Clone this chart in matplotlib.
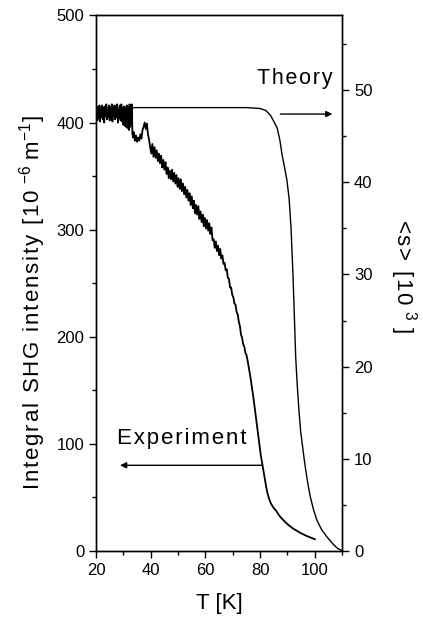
import numpy as np
import matplotlib
matplotlib.use("Agg")
import matplotlib.pyplot as plt
from matplotlib.ticker import MultipleLocator

plt.rcParams['font.family'] = ['Liberation Sans', 'DejaVu Sans']
plt.rcParams['mathtext.fontset'] = 'custom'
plt.rcParams['mathtext.rm'] = 'Liberation Sans'
plt.rcParams['mathtext.default'] = 'regular'
plt.rcParams['mathtext.fallback'] = 'stixsans'

# experiment: T [K] vs integral SHG intensity (left axis)
exp_T = [20.0, 20.25, 20.5, 20.75, 21.0, 21.25, 21.5, 21.75, 22.0, 22.25,
         22.5, 22.75, 23.0, 23.25, 23.5, 23.75, 24.0, 24.25, 24.5, 24.75,
         25.0, 25.25, 25.5, 25.75, 26.0, 26.25, 26.5, 26.75, 27.0, 27.25,
         27.5, 27.75, 28.0, 28.25, 28.5, 28.75, 29.0, 29.25, 29.5, 29.75,
         30.0, 30.25, 30.5, 30.75, 31.0, 31.25, 31.5, 31.75, 32.0, 32.25,
         32.5, 32.75, 33.0, 33.1, 33.3, 33.5, 33.8, 34.2, 34.6, 35.0,
         35.4, 35.8, 36.2, 36.6, 37.0, 37.4, 37.8, 38.2, 38.6, 39.0,
         39.4, 39.8, 40.2, 40.6, 41.0, 41.4, 41.8, 42.2, 42.6, 43.0,
         43.4, 43.8, 44.2, 44.6, 45.0, 45.4, 45.8, 46.2, 46.6, 47.0,
         47.4, 47.8, 48.2, 48.6, 49.0, 49.4, 49.8, 50.2, 50.6, 51.0,
         51.4, 51.8, 52.2, 52.6, 53.0, 53.4, 53.8, 54.2, 54.6, 55.0,
         55.4, 55.8, 56.2, 56.6, 57.0, 57.4, 57.8, 58.2, 58.6, 59.0,
         59.4, 59.8, 60.2, 60.6, 61.0, 61.4, 61.8, 62.2, 62.6, 63.0,
         63.4, 63.8, 64.2, 64.6, 65.0, 65.4, 65.8, 66.2, 66.6, 67.0,
         67.4, 67.8, 68.2, 68.6, 69.0, 69.4, 69.8, 70.2, 70.6, 71.0,
         71.4, 71.8, 72.2, 72.6, 73.0, 73.4, 73.8, 74.2, 74.6, 75.0,
         75.4, 75.8, 76.2, 76.6, 77.0, 77.4, 77.8, 78.2, 78.6, 79.0,
         79.4, 79.8, 80.2, 80.6, 81.0, 81.4, 81.8, 82.2, 82.6, 83.0,
         83.5, 84.0, 85.0, 86.0, 87.0, 88.0, 89.0, 90.0, 91.0, 92.0,
         93.0, 94.0, 95.0, 96.0, 97.0, 98.0, 99.0, 100.0]
exp_I = [409, 415, 402, 413, 404, 416, 401, 412, 405, 416,
         403, 414, 400, 415, 406, 417, 403, 412, 405, 416,
         402, 414, 404, 417, 401, 411, 406, 416, 403, 415,
         405, 417, 400, 412, 404, 416, 402, 417, 401, 413,
         398, 415, 397, 414, 396, 416, 395, 413, 393, 417,
         396, 416, 400, 417, 390, 386, 391, 383, 388, 382,
         386, 383, 389, 385, 393, 396, 400, 394, 399, 389,
         384, 377, 371, 380, 368, 377, 367, 374, 364, 371,
         362, 369, 358, 365, 356, 363, 352, 358, 348, 355,
         347, 356, 345, 353, 343, 351, 340, 348, 338, 347,
         336, 343, 333, 340, 330, 337, 327, 334, 323, 331,
         320, 327, 315, 323, 314, 322, 310, 317, 307, 314,
         303, 311, 301, 309, 299, 306, 296, 302, 290, 291,
         283, 289, 280, 285, 276, 282, 273, 276, 268, 269,
         262, 263, 255, 254, 246, 246, 239, 237, 231, 230,
         223, 221, 214, 210, 202, 199, 193, 191, 185, 183,
         178, 172, 166, 160, 152, 146, 138, 130, 122, 114,
         106, 98, 90, 84, 78, 72, 66, 60, 55, 51,
         47, 44, 40, 37, 33, 30, 27.5, 25, 23, 21,
         19.5, 18, 16.5, 15.2, 14, 13, 12, 11]

# theory: T [K] vs <s> [10^3] (right axis)
th_T = [20, 40, 60, 75, 80, 82, 83.7, 85, 86.2, 87.2, 88.0, 89.0, 89.8, 90.6,
        91.3, 92.0, 92.5, 93.0, 93.6, 94.2, 94.8, 95.4, 96.0, 96.7, 97.5, 98.4,
        99.5, 100.8, 102.5, 104.5, 106.5, 108.2, 110]
th_s = [48.1, 48.1, 48.1, 48.1, 48.0, 47.8, 47.3, 46.6, 45.9, 44.6, 43.0, 41.5,
        40.2, 38.2, 35.0, 30.0, 25.5, 21.0, 17.8, 15.2, 13.0, 11.6, 10.2, 8.7,
        7.2, 5.8, 4.5, 3.3, 2.3, 1.5, 0.8, 0.3, 0.0]


def spaced(s):
    # Origin-style letter spacing
    return '\u200a'.join(s)


fig = plt.figure(figsize=(4.23, 6.17), dpi=100)
ax = fig.add_axes([0.227, 0.107, 0.582, 0.868])
ax2 = ax.twinx()

ax.plot(exp_T, exp_I, color='black', lw=1.3)
ax2.plot(th_T, th_s, color='black', lw=1.0)

ax.set_xlim(20, 110)
ax.set_ylim(0, 500)
ax2.set_ylim(0, 58.1)

ax.xaxis.set_major_locator(MultipleLocator(20))
ax.xaxis.set_minor_locator(MultipleLocator(10))
ax.yaxis.set_major_locator(MultipleLocator(100))
ax.yaxis.set_minor_locator(MultipleLocator(50))
ax2.yaxis.set_major_locator(MultipleLocator(10))
ax2.yaxis.set_minor_locator(MultipleLocator(5))

for a in (ax, ax2):
    a.tick_params(which='major', direction='out', length=5, width=1, labelsize=12)
    a.tick_params(which='minor', direction='out', length=3, width=1)
    for sp in a.spines.values():
        sp.set_linewidth(1)
ax.tick_params(axis='x', which='both', top=False)

ax.set_xlabel('T [K]', fontsize=16)
ax.xaxis.set_label_coords(0.5, -0.078)
ax.set_ylabel(spaced('Integral SHG intensity [10') + ' $^{-6}$ ' + spaced('m') + '$^{-1}$]',
              fontsize=16)
ax.yaxis.set_label_coords(-0.256, 0.464)
ax.yaxis.label.set_va('center')
ax2.set_ylabel(spaced('<s> [10') + ' $^{3}$ ]', fontsize=16, rotation=270)
ax2.yaxis.set_label_coords(1.25, 0.513)
ax2.yaxis.label.set_va('center')

# annotations
ax.text(27.6, 105, spaced('Experiment'), fontsize=16, ha='left', va='center')
ax.annotate('', xy=(28.8, 80), xytext=(80.7, 80),
            arrowprops=dict(arrowstyle='-|>', lw=1, color='black',
                            mutation_scale=9, shrinkA=0, shrinkB=0))
ax.text(106.4, 441, spaced('Theory'), fontsize=15.5, ha='right', va='center')
ax2.annotate('', xy=(106.4, 47.4), xytext=(87.4, 47.4),
             arrowprops=dict(arrowstyle='-|>', lw=1, color='black',
                             mutation_scale=9, shrinkA=0, shrinkB=0))

fig.savefig('out.png', dpi=100)
